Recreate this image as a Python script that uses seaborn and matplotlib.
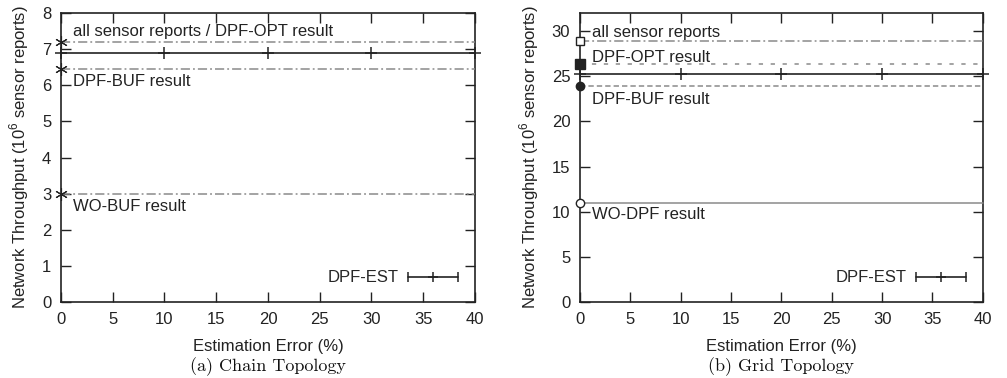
import matplotlib
matplotlib.use("Agg")
import matplotlib.pyplot as plt
from matplotlib.lines import Line2D
from matplotlib.legend_handler import HandlerLine2D, HandlerTuple
import pandas as pd
import seaborn as sns

# ---- data ----
err_pct = [0, 10, 20, 30, 40]
span = [0, 40]

# chain topology (10^6 sensor reports)
chain_est = [6.9, 6.9, 6.9, 6.9, 6.9]
chain_all_opt = 7.2
chain_buf = 6.45
chain_wobuf = 3.0

# grid topology (10^6 sensor reports)
grid_est = [25.2, 25.2, 25.2, 25.2, 25.2]
grid_all = 28.9
grid_opt = 26.3
grid_buf = 23.9
grid_wodpf = 11.0

xticks = list(range(0, 45, 5))
chain_yticks = list(range(0, 9))
grid_yticks = list(range(0, 35, 5))

sns.set_theme(style="ticks")
plt.rcParams["font.family"] = ["Liberation Sans", "DejaVu Sans"]
plt.rcParams["mathtext.fontset"] = "custom"
plt.rcParams["mathtext.rm"] = "Liberation Sans"

fig = plt.figure(figsize=(10.07, 3.78), dpi=100)
ax1 = fig.add_axes([0.0606, 0.201, 0.411, 0.7646])
ax2 = fig.add_axes([0.576, 0.201, 0.400, 0.7646])

GRAY = "#8a8a8a"
DARK = "#222222"
FS = 12


def base_line(ax, value, marker, mfc, dashes, lw=1.1, ms=7, mew=1.0):
    df = pd.DataFrame({"x": span, "y": [value, value]})
    ls = (0, dashes) if dashes else "-"
    sns.lineplot(data=df, x="x", y="y", ax=ax, color=GRAY, lw=lw,
                 linestyle=ls, marker=marker,
                 markevery=[0], markersize=ms, markerfacecolor=mfc,
                 markeredgecolor=DARK, markeredgewidth=mew, clip_on=False,
                 zorder=3)


def est_line(ax, values):
    df = pd.DataFrame({"x": err_pct, "y": values})
    sns.lineplot(data=df, x="x", y="y", ax=ax, color=DARK, lw=1.2,
                 marker="+", markersize=8, markeredgewidth=1.1,
                 markeredgecolor=DARK, clip_on=False, zorder=4)


def style_axes(ax, ylim, yticks):
    ax.set_xlim(0, 40)
    ax.set_ylim(*ylim)
    ax.set_xticks(xticks)
    ax.set_yticks(yticks)
    ax.tick_params(direction="in", top=True, right=True, length=7,
                   width=1.0, color=DARK, labelsize=FS, pad=7,
                   labelcolor=DARK)
    for s in ax.spines.values():
        s.set_color(DARK)
        s.set_linewidth(1.2)
    ax.set_xlabel("Estimation Error (%)", fontsize=FS, color=DARK, labelpad=9)
    ax.set_ylabel("Network Throughput (10$^6$ sensor reports)", fontsize=FS,
                  color=DARK, labelpad=8)


def est_legend(ax):
    caps = Line2D([], [], color=DARK, lw=1.2, marker="|", markersize=7,
                  markeredgewidth=1.1)
    plus = Line2D([], [], color=DARK, lw=0, marker="+", markersize=7,
                  markeredgewidth=1.1)
    h = (caps, plus)
    ax.legend([h], ["DPF-EST"], loc="lower right", frameon=False,
              markerfirst=False, fontsize=FS, handlelength=3.0,
              borderaxespad=0.6, handletextpad=0.6,
              handler_map={caps: HandlerLine2D(numpoints=2, marker_pad=0),
                           plus: HandlerLine2D(numpoints=1),
                           h: HandlerTuple(ndivide=1)})


dashdot = (6, 2, 1.2, 2)
asterisk = (6, 2, 0)

# ---- (a) chain topology ----
base_line(ax1, chain_all_opt, asterisk, DARK, dashdot, ms=9, mew=0.8)
base_line(ax1, chain_buf, asterisk, DARK, dashdot, ms=9, mew=0.8)
base_line(ax1, chain_wobuf, asterisk, DARK, dashdot, ms=9, mew=0.8)
est_line(ax1, chain_est)
style_axes(ax1, (0, 8), chain_yticks)
ax1.text(1.15, 7.5, "all sensor reports / DPF-OPT result", fontsize=FS,
         va="center", color=DARK)
ax1.text(1.15, 6.1, "DPF-BUF result", fontsize=FS, va="center", color=DARK)
ax1.text(1.15, 2.65, "WO-BUF result", fontsize=FS, va="center", color=DARK)
est_legend(ax1)

# ---- (b) grid topology ----
base_line(ax2, grid_all, "s", "white", dashdot, ms=6)
base_line(ax2, grid_opt, "s", DARK, (2.8, 5), ms=6.5)
base_line(ax2, grid_buf, "o", DARK, (3.5, 2), ms=6)
base_line(ax2, grid_wodpf, "o", "white", None, ms=6)
est_line(ax2, grid_est)
style_axes(ax2, (0, 32), grid_yticks)
ax2.text(1.2, 29.8, "all sensor reports", fontsize=FS, va="center", color=DARK)
ax2.text(1.2, 27.1, "DPF-OPT result", fontsize=FS, va="center", color=DARK)
ax2.text(1.2, 22.4, "DPF-BUF result", fontsize=FS, va="center", color=DARK)
ax2.text(1.2, 9.7, "WO-DPF result", fontsize=FS, va="center", color=DARK)
est_legend(ax2)

# sub-figure captions
for ax, cap in [(ax1, "(a) Chain Topology"), (ax2, "(b) Grid Topology")]:
    ax.text(0.5, -0.222, cap, transform=ax.transAxes, ha="center", va="center",
            fontsize=13, family=["cmr10", "DejaVu Serif"], color="#111111")

fig.savefig("out.png", dpi=100)
